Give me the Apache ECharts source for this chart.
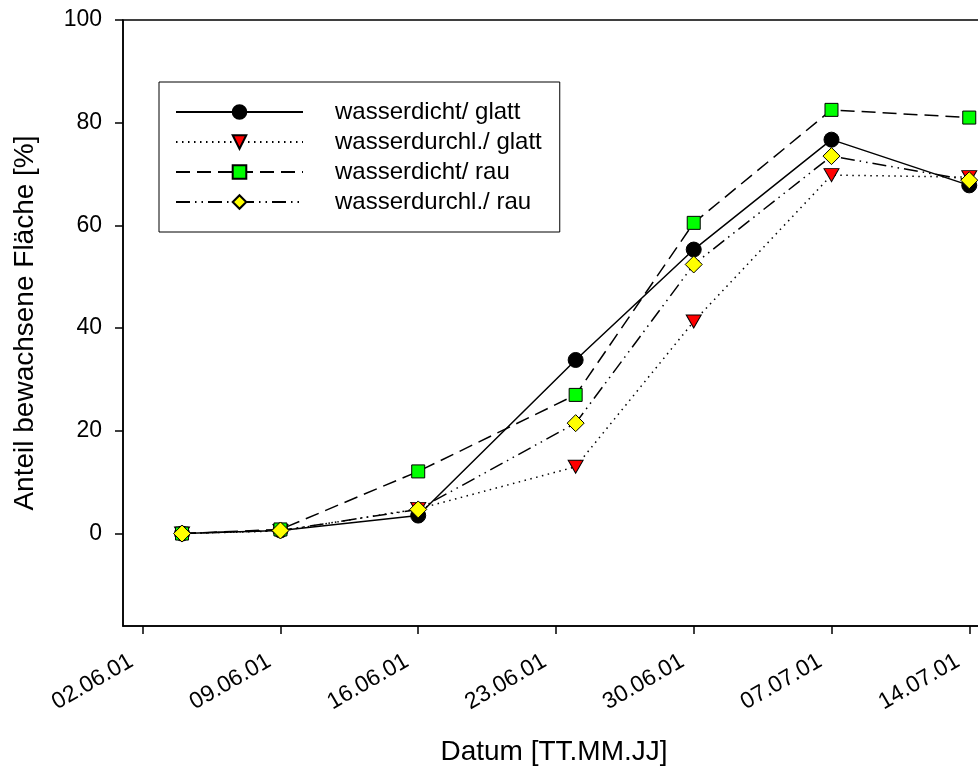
<!DOCTYPE html>
<html>
<head>
<meta charset="utf-8">
<script src="https://cdn.jsdelivr.net/npm/echarts@6/dist/echarts.min.js"></script>
<style>
  html, body { margin: 0; padding: 0; background: #fff; }
  #chart { width: 978px; height: 767px; }
</style>
</head>
<body>
<div id="chart"></div>
<script>
// Tage ab 02.06.01
var dayValues = [2, 7, 14, 22, 28, 35, 42];
var tickDays = [0, 7, 14, 21, 28, 35, 42];
var tickLabels = ['02.06.01', '09.06.01', '16.06.01', '23.06.01', '30.06.01', '07.07.01', '14.07.01'];
var yTicks = [0, 20, 40, 60, 80, 100];

var dichtGlatt = [0, 0.6, 3.5, 33.8, 55.3, 76.7, 67.8];
var durchlGlatt = [0, 0.5, 4.8, 13.0, 41.3, 69.8, 69.4];
var dichtRau = [0, 0.8, 12.1, 27.0, 60.5, 82.5, 81.0];
var durchlRau = [0, 0.6, 4.7, 21.5, 52.4, 73.5, 68.8];

function pairs(vals) {
    var out = [];
    for (var i = 0; i < vals.length; i++) {
        out.push([dayValues[i], vals[i]]);
    }
    return out;
}

var myChart = echarts.init(document.getElementById('chart'));
var font = 'Liberation Sans, Arial, sans-serif';

var option = {
    backgroundColor: '#fff',
    animation: false,
    grid: {
        left: 123,
        top: 20,
        right: -7,
        bottom: 141,
        show: true,
        borderColor: '#000',
        borderWidth: 1.5,
        containLabel: false,
        outerBoundsMode: 'none'
    },
    legend: {
        orient: 'vertical',
        left: 159,
        top: 82,
        padding: [15, 18, 15, 16],
        itemGap: 0,
        itemWidth: 127,
        itemHeight: 17,
        borderColor: '#000',
        borderWidth: 1,
        textStyle: {
            color: '#000',
            fontFamily: font,
            fontSize: 24,
            lineHeight: 30,
            padding: [0, 0, 0, 27]
        },
        data: ['wasserdicht/ glatt', 'wasserdurchl./ glatt', 'wasserdicht/ rau', 'wasserdurchl./ rau']
    },
    xAxis: {
        type: 'value',
        min: -1,
        max: 42.8,
        splitLine: { show: false },
        axisLine: { show: true, onZero: false, lineStyle: { color: '#000', width: 1.5 } },
        axisTick: {
            show: true,
            inside: false,
            length: 8,
            customValues: tickDays,
            lineStyle: { color: '#000', width: 1.5 }
        },
        axisLabel: {
            customValues: tickDays,
            rotate: 30,
            margin: 27,
            padding: [0, 13, 0, 0],
            color: '#000',
            fontFamily: font,
            fontSize: 23,
            formatter: function (v) {
                var i = tickDays.indexOf(v);
                return i >= 0 ? tickLabels[i] : '';
            }
        },
        name: 'Datum [TT.MM.JJ]',
        nameLocation: 'middle',
        nameGap: 112,
        nameTextStyle: { color: '#000', fontFamily: font, fontSize: 28 }
    },
    yAxis: {
        type: 'value',
        min: -18,
        max: 100,
        splitLine: { show: false },
        axisLine: { show: true, onZero: false, lineStyle: { color: '#000', width: 1.5 } },
        axisTick: {
            show: true,
            inside: false,
            length: 8,
            customValues: yTicks,
            lineStyle: { color: '#000', width: 1.5 }
        },
        axisLabel: {
            customValues: yTicks,
            margin: 21,
            color: '#000',
            fontFamily: font,
            fontSize: 23
        },
        name: 'Anteil bewachsene Fläche [%]',
        nameLocation: 'middle',
        nameGap: 84,
        nameTextStyle: { color: '#000', fontFamily: font, fontSize: 28 }
    },
    series: [
        {
            name: 'wasserdicht/ glatt',
            type: 'line',
            data: pairs(dichtGlatt),
            symbol: 'circle',
            symbolSize: 15,
            itemStyle: { color: '#000', borderColor: '#000', borderWidth: 1 },
            lineStyle: { color: '#000', width: 1.5, type: 'solid' }
        },
        {
            name: 'wasserdurchl./ glatt',
            type: 'line',
            data: pairs(durchlGlatt),
            symbol: 'triangle',
            symbolRotate: 180,
            symbolSize: [15, 13],
            itemStyle: { color: '#ff0000', borderColor: '#000', borderWidth: 1 },
            lineStyle: { color: '#000', width: 1.5, type: [1.5, 4.5] }
        },
        {
            name: 'wasserdicht/ rau',
            type: 'line',
            data: pairs(dichtRau),
            symbol: 'rect',
            symbolSize: 13,
            itemStyle: { color: '#00ff00', borderColor: '#000', borderWidth: 1 },
            lineStyle: { color: '#000', width: 1.5, type: [14, 7] }
        },
        {
            name: 'wasserdurchl./ rau',
            type: 'line',
            data: pairs(durchlRau),
            symbol: 'diamond',
            symbolSize: 17,
            itemStyle: { color: '#ffff00', borderColor: '#000', borderWidth: 1 },
            lineStyle: { color: '#000', width: 1.5, type: [14, 5, 1.5, 5, 1.5, 5] }
        }
    ]
};

myChart.setOption(option);
</script>
</body>
</html>
